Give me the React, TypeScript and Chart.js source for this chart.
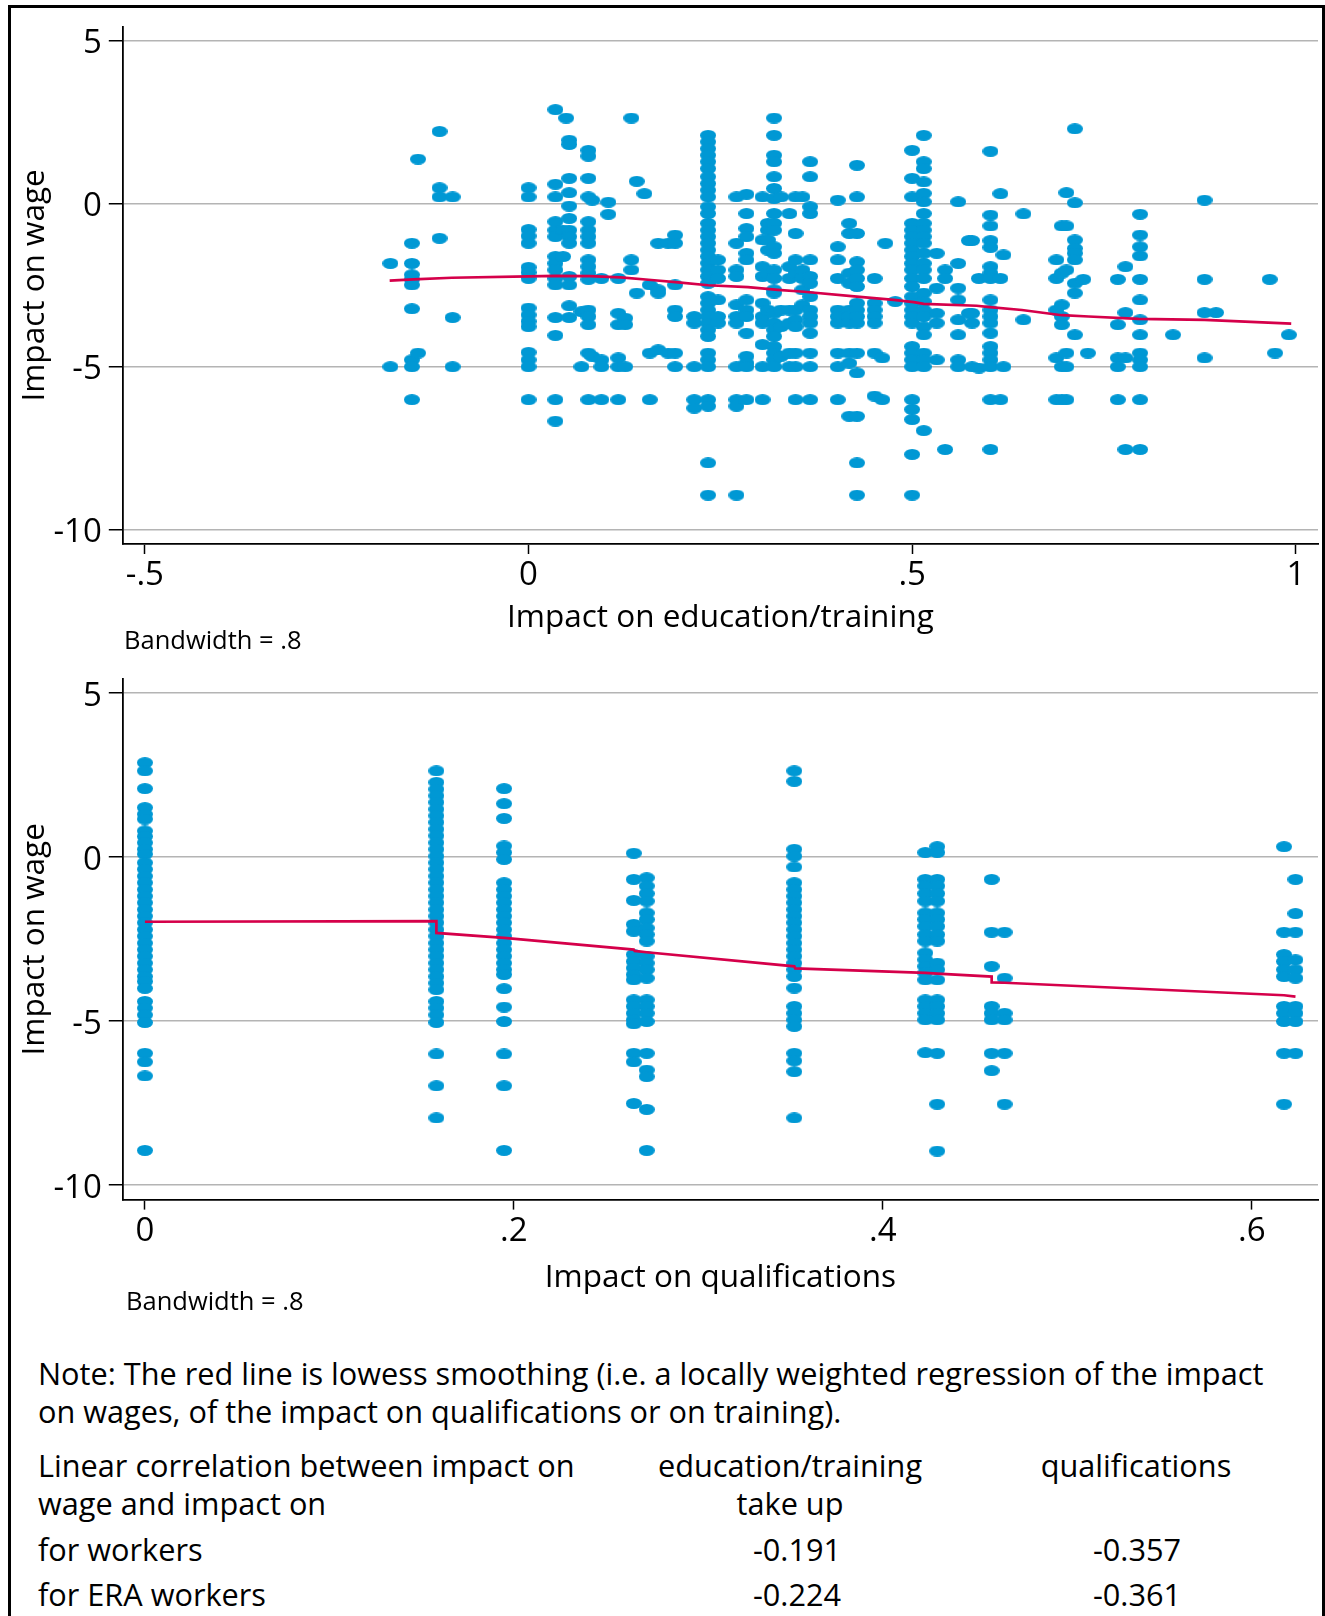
import React, { useEffect, useRef } from 'react';
import { Chart, registerables } from 'chart.js';

Chart.register(...registerables);

const FONT = '"Open Sans", "DejaVu Sans", sans-serif';
const BLUE = '#0098d4';
const RED = '#d5004a';
const GRID = '#b4b4b4';

// ---- axis ticks ----
const wageTicks = [-10, -5, 0, 5];
const wageTickLabels = ['-10', '-5', '0', '5'];
const eduTicks = [-0.5, 0, 0.5, 1];
const eduTickLabels = ['-.5', '0', '.5', '1'];
const qualTicks = [0, 0.2, 0.4, 0.6];
const qualTickLabels = ['0', '.2', '.4', '.6'];

// ---- top panel: impact on education/training (x) vs impact on wage (y) ----
const eduColumns: [number, number[]][] = [
  [-0.18, [-1.83, -5.0]],
  [-0.152, [-1.21, -1.83, -2.18, -2.32, -2.49, -3.22, -4.79, -5.0, -6.01]],
  [-0.144, [1.37, -4.58]],
  [-0.116, [2.22, 0.49, 0.21, -1.06]],
  [-0.099, [0.21, -3.49, -5.0]],
  [0.0, [0.49, 0.21, -0.79, -0.99, -1.21, -1.95, -2.11, -2.29, -3.2, -3.41, -3.61, -3.77, -4.56, -4.79, -5.0, -6.01]],
  [0.035, [2.89, 0.6, 0.21, -0.55, -0.81, -1.01, -1.62, -1.83, -2.03, -2.29, -2.49, -3.49, -4.04, -6.01, -6.67]],
  [0.045, [-0.81, -1.62]],
  [0.049, [2.63]],
  [0.053, [1.95, 1.82, 0.78, 0.34, -0.07, -0.45, -0.81, -1.01, -1.21, -2.23, -2.49, -3.13, -3.49]],
  [0.069, [-3.31, -5.0]],
  [0.078, [1.64, 1.46, 0.78, 0.21, -0.55, -0.81, -1.01, -1.21, -1.72, -1.93, -2.13, -2.32, -3.26, -3.46, -3.71, -4.58, -6.01]],
  [0.083, [0.11, -4.68]],
  [0.095, [-2.29, -4.79, -5.0, -6.01]],
  [0.104, [0.05, -0.32]],
  [0.117, [-2.29, -3.36, -3.71, -4.73, -5.0, -6.01]],
  [0.126, [-3.51, -3.71, -5.0]],
  [0.134, [2.63, -1.72, -2.03]],
  [0.141, [0.69, -2.74]],
  [0.151, [0.31]],
  [0.158, [-2.49, -4.58, -6.01]],
  [0.169, [-1.21, -2.64, -2.74, -4.48]],
  [0.182, [-1.21, -4.58]],
  [0.191, [-0.96, -1.21, -2.49, -3.26, -3.46, -4.58, -5.0]],
  [0.216, [-3.46, -3.66, -5.0, -6.01, -6.27]],
  [0.234, [2.1, 1.9, 1.69, 1.49, 1.29, 1.08, 0.83, 0.62, 0.42, 0.21, -0.09, -0.3, -0.6, -0.81, -1.01, -1.21, -1.42, -1.62, -1.82, -2.03, -2.23, -2.44, -2.85, -3.05, -3.26, -3.46, -3.66, -3.87, -4.07, -4.58, -4.79, -5.0, -6.01, -6.21, -7.95, -8.94]],
  [0.247, [-1.72, -2.03, -2.29, -2.95, -3.46, -3.66]],
  [0.271, [0.21, -1.21, -2.03, -2.23, -3.1, -3.46, -3.66, -5.0, -6.01, -6.21, -8.94]],
  [0.284, [0.29, -0.3, -0.76, -1.01, -1.52, -1.72, -2.95, -3.26, -3.46, -3.97, -4.68, -4.89, -5.0, -6.01]],
  [0.305, [0.21, -1.11, -1.93, -2.23, -3.05, -3.46, -3.66, -4.32, -5.0, -6.01]],
  [0.312, [-0.6, -0.81, -1.11, -1.42, -2.13, -3.26]],
  [0.32, [2.63, 2.1, 1.49, 1.29, 0.83, 0.47, 0.16, -0.3, -0.6, -0.81, -1.32, -1.52, -2.03, -2.29, -2.64, -2.74, -3.36, -3.66, -3.87, -4.07, -4.38, -4.58, -4.79, -5.0]],
  [0.329, [0.21, -3.26, -3.77, -4.68]],
  [0.34, [-0.3, -1.93, -2.29, -3.26, -3.66, -4.58, -5.0]],
  [0.348, [0.21, -0.91, -1.72, -2.13, -3.26, -3.56, -3.77, -4.58, -5.0, -6.01]],
  [0.357, [0.21, -2.03, -2.29, -2.64, -3.1]],
  [0.367, [1.29, 0.83, -0.09, -0.3, -1.72, -2.23, -2.44, -2.85, -3.26, -3.46, -3.66, -3.97, -4.58, -5.0, -6.01]],
  [0.403, [0.11, -1.32, -1.72, -2.29, -3.26, -3.46, -3.66, -4.58, -5.0, -6.01]],
  [0.418, [-0.6, -0.91, -2.13, -2.44, -3.26, -3.46, -3.66, -4.58, -4.89, -6.52]],
  [0.428, [1.18, 0.21, -0.91, -1.78, -2.03, -2.29, -2.54, -3.05, -3.26, -3.46, -3.66, -4.58, -5.19, -6.52, -7.95, -8.94]],
  [0.451, [-2.29, -3.05, -3.26, -3.46, -3.66, -4.58, -5.9]],
  [0.461, [-4.73, -6.01]],
  [0.465, [-1.21]],
  [0.478, [-3.0]],
  [0.5, [1.64, 0.78, 0.21, -0.6, -0.81, -1.01, -1.21, -1.42, -1.62, -1.83, -2.03, -2.29, -2.54, -2.85, -3.05, -3.26, -3.46, -3.66, -4.38, -4.58, -4.79, -5.0, -6.01, -6.31, -6.62, -7.69, -8.94]],
  [0.515, [2.1, 1.29, 1.08, 0.67, 0.32, 0.06, -0.3, -0.6, -0.81, -1.01, -1.21, -1.52, -1.83, -2.03, -2.29, -2.74, -3.0, -3.26, -3.46, -3.77, -4.02, -4.58, -4.79, -5.0, -6.96]],
  [0.532, [-1.52, -2.59, -3.36, -3.66, -4.79]],
  [0.543, [-2.03, -2.29, -7.54]],
  [0.56, [0.06, -1.83, -2.59, -2.95, -3.56, -4.02, -4.79, -5.0]],
  [0.574, [-1.13, -3.36]],
  [0.578, [-1.13, -3.36, -3.66, -5.0]],
  [0.587, [-2.29, -5.04]],
  [0.602, [1.61, -0.35, -0.68, -1.13, -1.34, -1.93, -2.13, -2.29, -2.95, -3.26, -3.46, -3.66, -3.97, -4.38, -4.58, -4.79, -5.0, -6.01, -7.54]],
  [0.615, [0.31, -2.29, -6.01]],
  [0.619, [-1.57, -5.0]],
  [0.645, [-0.31, -3.56]],
  [0.688, [-1.72, -2.29, -3.26, -4.73, -6.01]],
  [0.695, [-0.68, -2.13, -3.1, -3.46, -3.71, -5.0, -6.01]],
  [0.701, [0.34, -0.68, -2.03, -4.58, -5.0, -6.01]],
  [0.712, [2.3, 0.03, -1.11, -1.37, -1.52, -1.72, -2.44, -2.74, -4.02]],
  [0.723, [-2.32]],
  [0.729, [-4.58]],
  [0.768, [-2.32, -3.71, -4.73, -5.0, -6.01]],
  [0.778, [-1.93, -3.34, -4.73, -7.54]],
  [0.797, [-0.32, -0.96, -1.32, -1.6, -2.32, -2.95, -3.56, -4.02, -4.58, -4.79, -5.0, -6.01, -7.54]],
  [0.84, [-4.02]],
  [0.881, [0.11, -2.32, -3.34, -4.73]],
  [0.896, [-3.34]],
  [0.966, [-2.32]],
  [0.973, [-4.58]],
  [0.991, [-4.02]],
];

const eduLowess: [number, number][] = [
  [-0.181, -2.36], [-0.15, -2.32], [-0.1, -2.27], [0, -2.23], [0.035, -2.21], [0.08, -2.22],
  [0.12, -2.26], [0.16, -2.34], [0.195, -2.41], [0.234, -2.5], [0.286, -2.56], [0.325, -2.64],
  [0.359, -2.7], [0.428, -2.85], [0.476, -2.95], [0.502, -3.02], [0.515, -3.07], [0.584, -3.13],
  [0.601, -3.17], [0.643, -3.26], [0.695, -3.42], [0.73, -3.46], [0.795, -3.53], [0.881, -3.56],
  [0.994, -3.68],
];

// ---- bottom panel: impact on qualifications (x) vs impact on wage (y) ----
const qualColumns: [number, number[]][] = [
  [0.0, [2.88, 2.63, 2.09, 1.51, 1.31, 1.16, 0.8, 0.63, 0.44, 0.24, 0.09, -0.17, -0.37, -0.58, -0.78, -0.99, -1.19, -1.39, -1.6, -1.8, -2.0, -2.21, -2.41, -2.62, -2.82, -3.02, -3.23, -3.43, -3.64, -3.79, -4.0, -4.4, -4.6, -4.81, -5.04, -5.98, -6.24, -6.67, -8.94]],
  [0.158, [2.63, 2.28, 2.07, 1.87, 1.67, 1.46, 1.26, 1.06, 0.85, 0.65, 0.44, 0.24, 0.03, -0.17, -0.37, -0.58, -0.78, -0.99, -1.19, -1.39, -1.6, -1.8, -2.0, -2.21, -2.41, -2.62, -2.82, -3.02, -3.23, -3.43, -3.64, -3.84, -4.04, -4.4, -4.6, -4.81, -5.04, -6.0, -6.97, -7.95]],
  [0.1947, [2.09, 1.63, 1.18, 0.34, 0.14, -0.07, -0.78, -0.99, -1.19, -1.39, -1.6, -1.8, -2.0, -2.21, -2.41, -2.62, -2.82, -3.02, -3.23, -3.43, -3.58, -4.01, -4.57, -5.01, -6.0, -6.97, -8.94]],
  [0.265, [0.12, -0.68, -1.32, -2.05, -2.26, -2.97, -3.18, -3.38, -3.58, -3.74, -4.35, -4.55, -4.76, -4.96, -5.08, -5.98, -6.24, -7.51]],
  [0.272, [-0.63, -0.88, -1.11, -1.34, -1.7, -1.9, -2.16, -2.36, -2.56, -3.02, -3.23, -3.43, -3.69, -4.35, -4.55, -4.76, -5.01, -5.98, -6.49, -6.69, -7.69, -8.94]],
  [0.352, [2.63, 2.31, 0.24, 0.03, -0.3, -0.78, -0.99, -1.19, -1.39, -1.6, -1.8, -2.0, -2.21, -2.41, -2.62, -2.82, -3.02, -3.23, -3.43, -3.64, -3.99, -4.55, -4.76, -4.96, -5.16, -5.98, -6.21, -6.54, -7.95]],
  [0.423, [0.14, -0.68, -0.88, -1.11, -1.34, -1.7, -1.9, -2.11, -2.36, -2.56, -2.92, -3.13, -3.33, -3.53, -3.74, -4.35, -4.55, -4.76, -4.96, -5.96]],
  [0.4295, [0.32, 0.14, -0.68, -0.88, -1.11, -1.34, -1.7, -1.9, -2.11, -2.36, -2.56, -3.23, -3.43, -3.74, -4.35, -4.55, -4.76, -4.96, -5.98, -7.53, -8.96]],
  [0.459, [-0.68, -2.29, -3.33, -4.55, -4.76, -4.96, -5.98, -6.51]],
  [0.466, [-2.29, -3.69, -4.76, -4.96, -5.98, -7.53]],
  [0.6175, [0.32, -2.29, -2.97, -3.18, -3.43, -3.64, -4.55, -4.76, -5.01, -5.98, -7.53]],
  [0.6237, [-0.68, -1.72, -2.29, -3.13, -3.43, -3.69, -4.55, -4.76, -5.01, -5.98]],
];

const qualLowess: [number, number][] = [
  [0, -1.97], [0.158, -1.95], [0.158, -2.31], [0.1947, -2.46], [0.265, -2.82], [0.2655, -2.86],
  [0.272, -2.9], [0.352, -3.33], [0.3525, -3.39], [0.423, -3.53], [0.4295, -3.55], [0.459, -3.64],
  [0.459, -3.82], [0.466, -3.83], [0.6175, -4.21], [0.6237, -4.25],
];

const Y_MIN = -10.44;
const Y_MAX = 5.43;

const TICK_SIZE = 33;
const TITLE_SIZE = 31.5;
const NOTE_SIZE = 30.7;

function makeDot(w: number, h: number, color: string) {
  const c = document.createElement('canvas');
  c.width = w;
  c.height = h;
  const ctx = c.getContext('2d')!;
  ctx.fillStyle = color;
  ctx.beginPath();
  ctx.ellipse(w / 2, h / 2, w / 2, h / 2, 0, 0, Math.PI * 2);
  ctx.fill();
  return c;
}

type PanelProps = {
  top: number;
  height: number;
  padTop: number;
  axisH: number;
  titlePadBottom: number;
  columns: [number, number[]][];
  lowess: [number, number][];
  xMin: number;
  xMax: number;
  xTicks: number[];
  xLabels: string[];
  xTitle: string;
};

function Panel(p: PanelProps) {
  const ref = useRef<HTMLCanvasElement>(null);
  useEffect(() => {
    const dot = makeDot(16, 11, BLUE);
    const pts: { x: number; y: number }[] = [];
    p.columns.forEach(([x, ys]) => ys.forEach((y) => pts.push({ x, y })));
    const tickFont = { family: FONT, size: TICK_SIZE };
    const chart = new Chart(ref.current!, {
      type: 'scatter',
      data: {
        datasets: [
          {
            data: p.lowess.map(([x, y]) => ({ x, y })),
            showLine: true,
            borderColor: RED,
            borderWidth: 2.7,
            pointRadius: 0,
            tension: 0,
            order: 0,
          } as any,
          {
            data: pts,
            pointStyle: dot,
            pointRadius: 6,
            showLine: false,
            order: 1,
          } as any,
        ],
      },
      options: {
        animation: false,
        responsive: false,
        devicePixelRatio: 1,
        events: [],
        layout: { padding: { top: p.padTop, right: 3, left: 0, bottom: 0 } },
        plugins: { legend: { display: false }, tooltip: { enabled: false } },
        scales: {
          x: {
            type: 'linear',
            min: p.xMin,
            max: p.xMax,
            afterBuildTicks: (s: any) => {
              s.ticks = p.xTicks.map((v) => ({ value: v }));
            },
            afterFit: (s: any) => {
              s.height = p.axisH;
            },
            ticks: {
              autoSkip: false,
              maxRotation: 0,
              padding: 2,
              color: '#000',
              font: tickFont,
              callback: (v: any) => p.xLabels[p.xTicks.indexOf(Number(v))] ?? '',
            },
            grid: {
              display: true,
              drawOnChartArea: false,
              drawTicks: true,
              tickLength: 10,
              tickColor: '#000',
              tickWidth: 1.5,
            },
            border: { display: true, color: '#000', width: 1.8 },
            title: {
              display: true,
              text: p.xTitle,
              color: '#000',
              font: { family: FONT, size: TITLE_SIZE },
              padding: { top: 0, bottom: p.titlePadBottom },
            },
          },
          y: {
            type: 'linear',
            min: Y_MIN,
            max: Y_MAX,
            afterBuildTicks: (s: any) => {
              s.ticks = wageTicks.map((v) => ({ value: v }));
            },
            afterFit: (s: any) => {
              s.width = 122.8;
            },
            ticks: {
              autoSkip: false,
              padding: 7,
              labelOffset: 3,
              color: '#000',
              font: tickFont,
              callback: (v: any) => wageTickLabels[wageTicks.indexOf(Number(v))] ?? '',
            },
            grid: {
              display: true,
              color: GRID,
              lineWidth: 1.5,
              drawTicks: true,
              tickLength: 14,
              tickColor: '#000',
              tickWidth: 1.5,
            },
            border: { display: true, color: '#000', width: 1.8 },
            title: {
              display: true,
              text: 'Impact on wage',
              color: '#000',
              font: { family: FONT, size: TITLE_SIZE },
              padding: { top: 16, bottom: 0 },
            },
          },
        },
      } as any,
    });
    return () => chart.destroy();
  }, []);
  return (
    <canvas
      ref={ref}
      width={1325}
      height={p.height}
      style={{ position: 'absolute', left: 0, top: p.top, width: 1325, height: p.height }}
    />
  );
}

function Txt(props: { x: number; base: number; size: number; center?: boolean; children: React.ReactNode }) {
  const { x, base, size, center } = props;
  return (
    <div
      style={{
        position: 'absolute',
        left: x,
        top: base - 0.888 * size,
        fontFamily: FONT,
        fontSize: size,
        lineHeight: `${size}px`,
        whiteSpace: 'nowrap',
        color: '#000',
        transform: center ? 'translateX(-50%)' : undefined,
      }}
    >
      {props.children}
    </div>
  );
}

export default function App() {
  return (
    <div
      style={{
        position: 'absolute',
        left: 0,
        top: 0,
        width: 1325,
        height: 1616,
        overflow: 'hidden',
        background: '#fff',
      }}
    >
      <div
        style={{
          position: 'absolute',
          left: 8,
          top: 5,
          width: 1317,
          height: 1700,
          border: '3px solid #000',
          boxSizing: 'border-box',
        }}
      />
      <Panel
        top={0}
        height={640}
        padTop={24}
        axisH={96}
        titlePadBottom={3}
        columns={eduColumns}
        lowess={eduLowess}
        xMin={-0.5288}
        xMax={1.0289}
        xTicks={eduTicks}
        xLabels={eduTickLabels}
        xTitle="Impact on education/training"
      />
      <Panel
        top={640}
        height={680}
        padTop={39}
        axisH={120.4}
        titlePadBottom={23}
        columns={qualColumns}
        lowess={qualLowess}
        xMin={-0.012}
        xMax={0.6359}
        xTicks={qualTicks}
        xLabels={qualTickLabels}
        xTitle="Impact on qualifications"
      />
      <Txt x={124} base={650} size={25.5}>Bandwidth = .8</Txt>
      <Txt x={126} base={1311} size={25.5}>Bandwidth = .8</Txt>

      <Txt x={38} base={1385} size={NOTE_SIZE}>
        Note: The red line is lowess smoothing (i.e. a locally weighted regression of the impact
      </Txt>
      <Txt x={38} base={1423} size={NOTE_SIZE}>
        on wages, of the impact on qualifications or on training).
      </Txt>
      <Txt x={38} base={1477} size={NOTE_SIZE}>Linear correlation between impact on</Txt>
      <Txt x={790} base={1477} size={NOTE_SIZE} center>education/training</Txt>
      <Txt x={1136} base={1477} size={NOTE_SIZE} center>qualifications</Txt>
      <Txt x={38} base={1515} size={NOTE_SIZE}>wage and impact on</Txt>
      <Txt x={790} base={1515} size={NOTE_SIZE} center>take up</Txt>
      <Txt x={38} base={1561} size={NOTE_SIZE}>for workers</Txt>
      <Txt x={797} base={1561} size={NOTE_SIZE} center>-0.191</Txt>
      <Txt x={1137} base={1561} size={NOTE_SIZE} center>-0.357</Txt>
      <Txt x={38} base={1606} size={NOTE_SIZE}>for ERA workers</Txt>
      <Txt x={797} base={1606} size={NOTE_SIZE} center>-0.224</Txt>
      <Txt x={1137} base={1606} size={NOTE_SIZE} center>-0.361</Txt>
    </div>
  );
}
